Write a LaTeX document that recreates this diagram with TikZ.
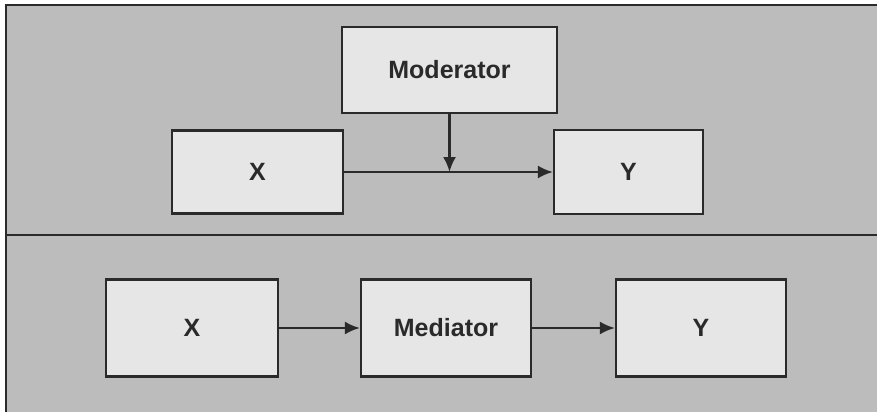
\documentclass[tikz,border=0pt]{standalone}
\usepackage{fontspec}
\setmainfont{Liberation Sans}
\usetikzlibrary{arrows.meta}
\definecolor{panel}{HTML}{BCBCBC}
\definecolor{boxfill}{HTML}{E6E6E6}
\definecolor{ink}{HTML}{2A2A2A}
\begin{document}
\begin{tikzpicture}[x=1pt,y=-1pt,
  box/.style={draw=ink, line width=2.2pt, fill=boxfill, inner sep=0pt,
    font=\fontsize{25}{29}\selectfont\bfseries, text=ink},
  flow/.style={draw=ink, line width=2.4pt, -{Latex[length=15pt,width=13pt]}}]
  \useasboundingbox (0,0) rectangle (877,412);
  \fill[white] (0,0) rectangle (877,412);
  % two shaded panels
  \fill[panel] (6,5) rectangle (877,412);
  \draw[ink, line width=2.2pt] (6,412) -- (6,5) -- (877,5);
  \draw[ink, line width=2.2pt] (6,235) -- (877,235);
  % moderation panel
  \node[box, minimum width=215pt, minimum height=86pt] (mod) at (449.5,70) {Moderator};
  \node[box, minimum width=171pt, minimum height=83pt] (x1) at (257.5,172) {X};
  \node[box, minimum width=149pt, minimum height=84pt] (y1) at (628.5,172) {Y};
  \coordinate (join) at (mod.south |- x1.east);
  \draw[flow] (x1.east) -- (y1.west);
  \draw[flow] (mod.south) -- (join);
  % mediation panel
  \node[box, minimum width=172pt, minimum height=97pt] (x2) at (192,328) {X};
  \node[box, minimum width=170pt, minimum height=97pt] (med) at (446,328) {Mediator};
  \node[box, minimum width=170pt, minimum height=97pt] (y2) at (701,328) {Y};
  \draw[flow] (x2.east) -- (med.west);
  \draw[flow] (med.east) -- (y2.west);
\end{tikzpicture}
\end{document}
